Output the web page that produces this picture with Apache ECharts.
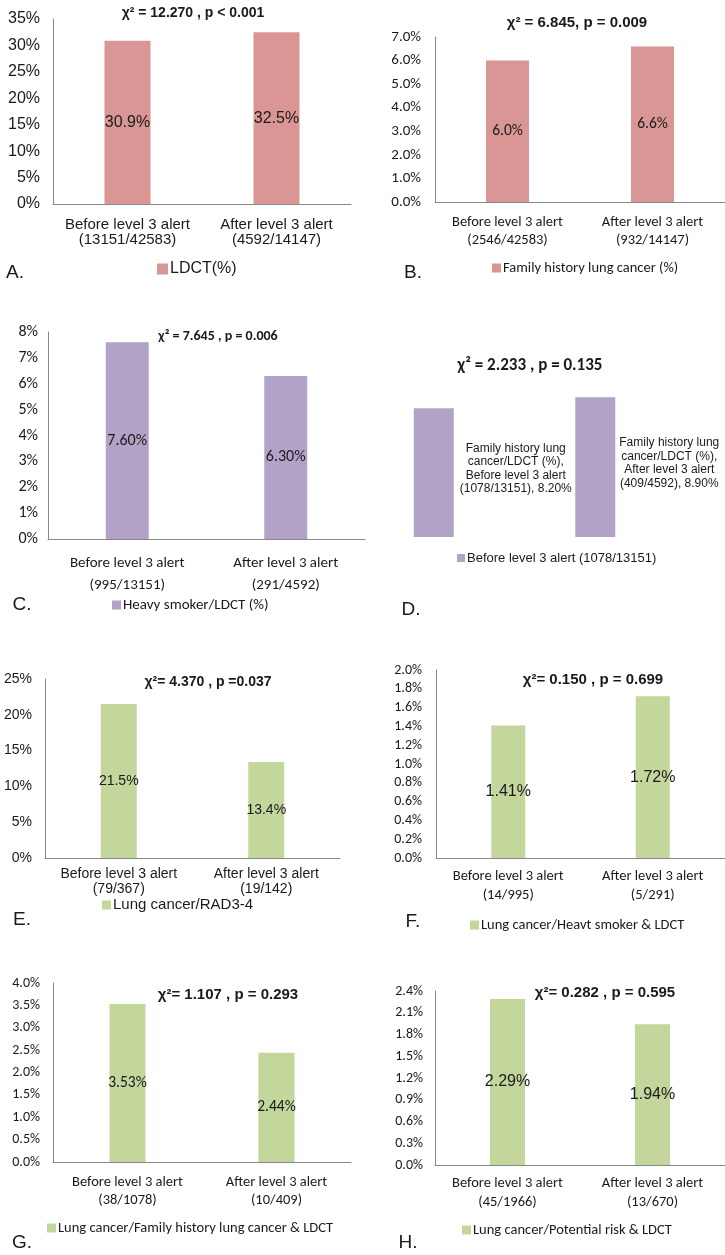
<!DOCTYPE html>
<html><head><meta charset="utf-8">
<script src="https://cdn.jsdelivr.net/npm/echarts@6/dist/echarts.min.js"></script>
<style>html,body{margin:0;padding:0;background:#fff}#c{width:725px;height:1255px}</style>
</head><body><div id="c"></div>
<script>
// ---- data ----
const catsA = ['Before level 3 alert\n(13151/42583)', 'After level 3 alert\n(4592/14147)'];
const catsB = ['Before level 3 alert\n(2546/42583)', 'After level 3 alert\n(932/14147)'];
const catsC = ['Before level 3 alert\n(995/13151)', 'After level 3 alert\n(291/4592)'];
const catsD = ['Before level 3 alert', 'After level 3 alert'];
const catsE = ['Before level 3 alert\n(79/367)', 'After level 3 alert\n(19/142)'];
const catsF = ['Before level 3 alert\n(14/995)', 'After level 3 alert\n(5/291)'];
const catsG = ['Before level 3 alert\n(38/1078)', 'After level 3 alert\n(10/409)'];
const catsH = ['Before level 3 alert\n(45/1966)', 'After level 3 alert\n(13/670)'];

const valsA = [30.9, 32.5];
const valsB = [6.0, 6.6];
const valsC = [7.6, 6.3];
const valsD = [8.2, 8.9];
const valsE = [21.5, 13.4];
const valsF = [1.41, 1.72];
const valsG = [3.53, 2.44];
const valsH = [2.29, 1.94];

const labelDecimals = [1, 1, 2, 2, 1, 2, 2, 2];
const labelsD = [
  'Family history lung\ncancer/LDCT (%),\nBefore level 3 alert\n(1078/13151), 8.20%',
  'Family history lung\ncancer/LDCT (%),\nAfter level 3 alert\n(409/4592), 8.90%'
];

const seriesNames = ['LDCT(%)', 'Family history lung cancer (%)', 'Heavy smoker/LDCT (%)',
  'Before level 3 alert (1078/13151)', 'Lung cancer/RAD3-4', 'Lung cancer/Heavt smoker & LDCT',
  'Lung cancer/Family history lung cancer & LDCT', 'Lung cancer/Potential risk & LDCT'];
const statTexts = ['χ² = 12.270 , p < 0.001', 'χ² = 6.845, p = 0.009', 'χ² = 7.645 , p = 0.006',
  'χ² = 2.233 , p = 0.135', 'χ²= 4.370 , p =0.037', 'χ²= 0.150 , p = 0.699',
  'χ²= 1.107 , p = 0.293', 'χ²= 0.282 , p = 0.595'];
const panelLetters = ['A.', 'B.', 'C.', 'D.', 'E.', 'F.', 'G.', 'H.'];

const yMax = [35, 7, 8, 10, 25, 2, 4, 2.4];
const yStep = [5, 1, 1, 1, 5, 0.2, 0.5, 0.3];
const tickDecimals = [0, 1, 0, 0, 0, 1, 1, 1];

// ---- styling / layout ----
const ARIAL = 'Liberation Sans, Arial, sans-serif';
const CALI = 'Carlito, Lato, sans-serif';
const PINK = '#D99694', PURPLE = '#B3A2C7', GREEN = '#C3D69B';
const TXT = '#1a1a1a', AX = '#888888';
const dLabelOffsets = [57, 49];

const cats = [catsA, catsB, catsC, catsD, catsE, catsF, catsG, catsH];
const vals = [valsA, valsB, valsC, valsD, valsE, valsF, valsG, valsH];

const L = [
  {grid:{left:53,top:19,width:298,height:185}, color:PINK, bw:46,
   yf:[ARIAL,16,13], xf:[ARIAL,15,15,13], df:[ARIAL,16],
   t:[193,13,ARIAL,14], lt:[15,273,ARIAL], lg:[157,269,ARIAL,16,11]},
  {grid:{left:435,top:37,width:290,height:165}, color:PINK, bw:43,
   yf:[CALI,15,14], xf:[CALI,14.5,18,11], df:[CALI,15.5],
   t:[577,23,ARIAL,15], lt:[413,273,ARIAL], lg:[492,268,CALI,14.5,9]},
  {grid:{left:48,top:332,width:317,height:207}, color:PURPLE, bw:43,
   yf:[CALI,16,10], xf:[CALI,15,22,13], df:[CALI,16],
   t:[218,336,CALI,14], lt:[22,605,ARIAL], lg:[112,605,CALI,15,9]},
  {grid:{left:353,top:380,width:323,height:157}, color:PURPLE, bw:40,
   yf:[ARIAL,13,8], xf:[ARIAL,13,15,8], df:[ARIAL,12],
   t:[530,366,CALI,17], lt:[411,610,ARIAL], lg:[457,558,ARIAL,13,8]},
  {grid:{left:45,top:679,width:295,height:179}, color:GREEN, bw:36,
   yf:[ARIAL,14,13], xf:[ARIAL,14,15,9], df:[ARIAL,14],
   t:[208,682,ARIAL,14], lt:[22,920,ARIAL], lg:[102,905,ARIAL,15,9]},
  {grid:{left:436,top:670,width:289,height:188}, color:GREEN, bw:34,
   yf:[CALI,14,14], xf:[CALI,14.5,19,9], df:[ARIAL,16],
   t:[593,680,ARIAL,15], lt:[413,922,ARIAL], lg:[470,925,CALI,14.5,9]},
  {grid:{left:53,top:983,width:298,height:179}, color:GREEN, bw:36,
   yf:[CALI,14,13], xf:[CALI,14.5,18,11], df:[CALI,15.5],
   t:[228,995,ARIAL,15], lt:[22,1243,ARIAL], lg:[47,1228,CALI,14.5,9]},
  {grid:{left:435,top:991,width:293,height:174}, color:GREEN, bw:35,
   yf:[CALI,14,12], xf:[CALI,14.5,19,9], df:[ARIAL,16],
   t:[605,993,ARIAL,15], lt:[408,1243,ARIAL], lg:[462,1230,CALI,14.5,9]}
];

const option = {animation:false, backgroundColor:'#fff', grid:[], xAxis:[], yAxis:[], series:[], title:[], legend:[]};

L.forEach((p, i) => {
  const isD = i === 3;
  option.grid.push(Object.assign({containLabel:false}, p.grid));
  option.xAxis.push({
    type:'category', gridIndex:i, data:cats[i], show:!isD,
    axisLine:{show:true, lineStyle:{color:AX, width:1}}, axisTick:{show:false},
    axisLabel:{interval:0, color:TXT, fontFamily:p.xf[0], fontSize:p.xf[1], lineHeight:p.xf[2], margin:p.xf[3]},
    splitLine:{show:false}
  });
  option.yAxis.push({
    type:'value', gridIndex:i, min:0, max:yMax[i], interval:yStep[i], show:!isD,
    axisLine:{show:true, lineStyle:{color:AX, width:1}}, axisTick:{show:false}, splitLine:{show:false},
    axisLabel:{color:TXT, fontFamily:p.yf[0], fontSize:p.yf[1], margin:p.yf[2],
      formatter:(v) => v.toFixed(tickDecimals[i]) + '%'}
  });
  const lbl = isD ? {
      show:true, position:'right', distance:5, align:'center', offset:[55, -4],
      color:TXT, fontFamily:p.df[0], fontSize:p.df[1], lineHeight:13.5,
      formatter:(d) => labelsD[d.dataIndex]
    } : {
      show:true, position:'inside', color:TXT, fontFamily:p.df[0], fontSize:p.df[1],
      formatter:(d) => d.value.toFixed(labelDecimals[i]) + '%'
    };
  const data = isD
    ? vals[i].map((v, k) => ({value:v, label:{offset:[dLabelOffsets[k], -4]}}))
    : vals[i];
  option.series.push({
    type:'bar', name:seriesNames[i], xAxisIndex:i, yAxisIndex:i, data:data,
    barWidth:p.bw, itemStyle:{color:p.color}, label:lbl, emphasis:{disabled:true}
  });
  option.title.push({
    text:statTexts[i], left:p.t[0], top:p.t[1] - p.t[3]*0.6, textAlign:'center', padding:0,
    textStyle:{fontFamily:p.t[2], fontSize:p.t[3], fontWeight:'bold', color:TXT, lineHeight:p.t[3]*1.2}
  });
  option.title.push({
    text:panelLetters[i], left:p.lt[0], top:p.lt[1] - 11, textAlign:'center', padding:0,
    textStyle:{fontFamily:p.lt[2], fontSize:19, fontWeight:'normal', color:TXT, lineHeight:22}
  });
  option.legend.push({
    data:[seriesNames[i]], left:p.lg[0], top:p.lg[1] - p.lg[3]*0.6, padding:0, selectedMode:false,
    icon:'rect', itemWidth:p.lg[4], itemHeight:p.lg[4], itemGap:2,
    textStyle:{fontFamily:p.lg[2], fontSize:p.lg[3], color:TXT, padding:[0,0,0,-3], lineHeight:p.lg[3]*1.2}
  });
});

const chart = echarts.init(document.getElementById('c'), null, {renderer:'canvas'});
chart.setOption(option);
</script>
</body></html>
